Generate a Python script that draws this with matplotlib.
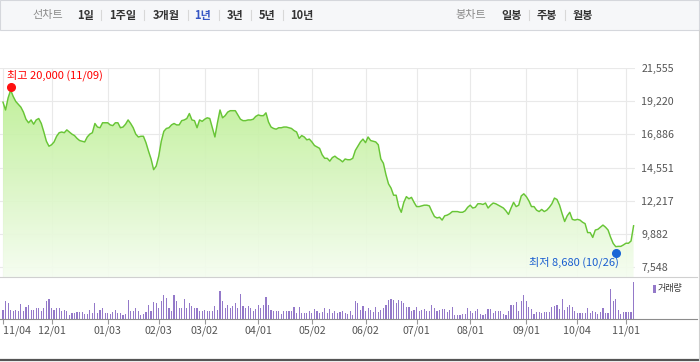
import numpy as np
import matplotlib
matplotlib.use('Agg')
import matplotlib.pyplot as plt
from matplotlib.patches import Rectangle
from matplotlib.lines import Line2D
from matplotlib.colors import LinearSegmentedColormap
import matplotlib.transforms as mtransforms

plt.rcParams['font.family'] = ['Noto Sans CJK KR', 'DejaVu Sans']

# ---------------- data ----------------
prices = [
    19150, 18600, 19450, 20000, 19550, 19200, 19000, 18800, 18450, 17950,
    17700, 17900, 17600, 17900, 18000, 17650, 17050, 16400, 16050, 16150,
    16350, 16750, 17000, 17050, 17000, 17200, 17050, 16900, 16800, 16600,
    16450, 16400, 16350, 16700, 16900, 17000, 17650, 17400, 17350, 17700,
    17700, 17700, 17550, 17500, 17700, 17700, 17350, 17400, 17600, 17900,
    17650, 17350, 16900, 16700, 16750, 16750, 16300, 15700, 15150, 14400,
    14650, 15350, 16400, 17100, 17300, 17350, 17550, 17650, 17550, 17550,
    17850, 17900, 18000, 18350, 17900, 17850, 17350, 17900, 17800, 17950,
    18050, 18000, 17350, 16700, 17700, 18600, 18050, 18200, 18450, 18550,
    18550, 18550, 18250, 17950, 17850, 17850, 17900, 17900, 17950, 18150,
    18250, 18200, 18200, 18400, 17750, 17400, 17300, 17250, 17350, 17350,
    17400, 17400, 17350, 17300, 17150, 17050, 16600, 16800, 16700, 16500,
    16550, 16350, 16100, 16000, 15900, 15450, 15200, 15200, 15000, 15250,
    15350, 15200, 15100, 14950, 15150, 15100, 15100, 15200, 15750, 16050,
    16350, 16550, 16300, 16700, 16450, 16400, 16350, 16150, 15150, 14850,
    14050, 13400, 13100, 12600, 12600, 11800, 11400, 12100, 12500, 12350,
    12450, 12100, 11800, 11800, 11850, 11900, 11900, 11850, 11450, 11100,
    11000, 11050, 10850, 11150, 11200, 11300, 11450, 11450, 11450, 11400,
    11400, 11500, 11750, 11900, 11700, 11750, 12000, 12000, 11950, 12050,
    11700, 11900, 12050, 12000, 11900, 11800, 11700, 11500, 11250, 11700,
    12100, 11800, 11900, 12550, 12700, 12500, 12200, 11800, 11800, 11550,
    11450, 11600, 11450, 11550, 11750, 12000, 12400, 12300, 11900, 11300,
    10750, 11150, 11400, 10900, 10850, 10900, 10850, 10700, 10600, 9970,
    9970, 9630, 10150, 10200, 10350, 10500, 10350, 10150, 9640, 9210,
    8980, 9000, 9000, 9100, 9220, 9220, 9380, 10450,
]

volumes = [
    93, 183, 160, 93, 77, 93, 77, 153, 83, 120,
    143, 93, 93, 110, 110, 77, 110, 183, 203, 110,
    93, 110, 110, 83, 93, 83, 43, 60, 60, 70,
    70, 70, 50, 50, 93, 60, 160, 60, 93, 110,
    60, 60, 50, 70, 93, 60, 60, 43, 50, 193,
    83, 83, 110, 80, 43, 50, 70, 137, 83, 170,
    160, 110, 183, 243, 210, 110, 83, 243, 177, 110,
    110, 200, 110, 160, 127, 110, 110, 77, 77, 93,
    77, 83, 80, 127, 93, 283, 177, 110, 137, 110,
    127, 160, 110, 253, 127, 110, 127, 110, 83, 100,
    143, 110, 143, 220, 137, 93, 77, 83, 83, 50,
    77, 83, 77, 77, 117, 60, 117, 60, 60, 60,
    77, 60, 100, 77, 60, 70, 110, 60, 100, 60,
    77, 60, 70, 83, 60, 50, 83, 43, 177, 160,
    93, 133, 77, 110, 93, 67, 120, 67, 87, 110,
    143, 187, 203, 193, 160, 193, 183, 160, 117, 117,
    77, 93, 117, 77, 93, 103, 83, 77, 143, 110,
    77, 93, 103, 103, 70, 93, 117, 43, 43, 43,
    50, 50, 110, 77, 60, 83, 103, 53, 43, 50,
    103, 103, 60, 77, 77, 83, 50, 43, 83, 137,
    137, 170, 83, 183, 243, 183, 120, 103, 50, 70,
    70, 60, 70, 70, 70, 120, 127, 143, 103, 203,
    87, 120, 137, 117, 83, 60, 60, 60, 60, 110,
    60, 83, 70, 50, 70, 110, 60, 60, 303, 177,
    203, 93, 50, 70, 70, 70, 70, 367,
]

tick_idx = [0, 19, 41, 61, 79, 100, 121, 142, 162, 183, 205, 225, 244]
tick_labels = ['11/04', '12/01', '01/03', '02/03', '03/02', '04/01', '05/02',
               '06/02', '07/01', '08/01', '09/01', '10/04', '11/01']
price_ticks = [7548, 9882, 12217, 14551, 16886, 19220, 21555]
max_idx, max_val, max_label = 3, 20000, '최고 20,000 (11/09)'
min_idx, min_val, min_label = 240, 8680, '최저 8,680 (10/26)'
period_tabs = ['1일', '1주일', '3개월', '1년', '3년', '5년', '10년']
candle_tabs = ['일봉', '주봉', '월봉']
volume_label = '거래량'

# ---------------- layout helpers ----------------
W, H = 700, 362
fig = plt.figure(figsize=(7, 3.62), dpi=100)
fig.patch.set_facecolor('white')


def rect(l, t, r, b):
    return [l / W, 1 - b / H, (r - l) / W, (b - t) / H]


def fx(x):
    return x / W


def fy(y):
    return 1 - y / H


PX_PER_DAY = 2.553
X0 = 3.0
YMIN, YMAX = 6844, 21555
x = np.arange(len(prices))

# ---------------- header ----------------
fig.add_artist(Rectangle((0, fy(30)), fx(699), 30 / H, transform=fig.transFigure,
                         facecolor='#f6f7f9', edgecolor='#d5d7dc', lw=0.8))
fig.text(fx(48), fy(15), '선차트', ha='center', va='center', fontsize=8, color='#8a8a8a')
tab_x = [86, 123, 166, 203, 235, 267, 302]
for lbl, xx in zip(period_tabs, tab_x):
    col = '#3656c4' if lbl == '1년' else '#333333'
    fig.text(fx(xx), fy(15), lbl, ha='center', va='center', fontsize=8,
             fontweight='bold', color=col)
for sx in [101, 144, 188, 219, 251, 283]:
    fig.add_artist(Line2D([fx(sx), fx(sx)], [fy(10), fy(20)], transform=fig.transFigure,
                          color='#d8d8d8', lw=0.8))
fig.text(fx(471), fy(15), '봉차트', ha='center', va='center', fontsize=8, color='#8a8a8a')
for lbl, xx in zip(candle_tabs, [512, 547, 583]):
    fig.text(fx(xx), fy(15), lbl, ha='center', va='center', fontsize=8,
             fontweight='bold', color='#333333')
for sx in [529, 565]:
    fig.add_artist(Line2D([fx(sx), fx(sx)], [fy(10), fy(20)], transform=fig.transFigure,
                          color='#d8d8d8', lw=0.8))

# ---------------- price chart ----------------
ax = fig.add_axes(rect(0, 68, 635, 277))
xlim = ((0 - X0) / PX_PER_DAY, (635 - X0) / PX_PER_DAY)
poly = ax.fill_between(x, prices, YMIN, facecolor='none', edgecolor='none')
cmap = LinearSegmentedColormap.from_list('g', ['#f5fdf0', '#b6ed89'])
grad = np.linspace(0, 1, 256).reshape(-1, 1)
im = ax.imshow(grad, aspect='auto', cmap=cmap, origin='lower',
               extent=[xlim[0], xlim[1], YMIN, YMAX], zorder=1, alpha=0.92)
im.set_clip_path(poly.get_paths()[0], transform=ax.transData)
ax.plot(x, prices, color='#68c536', lw=1.05, zorder=3)
ax.set_xlim(*xlim)
ax.set_ylim(YMIN, YMAX)
for v in price_ticks:
    ax.axhline(v, color='#e9e9e9', lw=0.8, zorder=0)
for t in tick_idx:
    ax.axvline(t, color='#e9e9e9', lw=0.8, zorder=0)
ax.set_xticks([])
ax.yaxis.tick_right()
ax.set_yticks(price_ticks)
ax.set_yticklabels([f'{v:,}' for v in price_ticks])
ax.tick_params(axis='y', length=0, pad=4.5, labelsize=7.7, labelcolor='#555555')
for s in ax.spines.values():
    s.set_visible(False)

# max / min markers
up = mtransforms.offset_copy(ax.transData, fig=fig, x=0, y=3, units='dots')
dn = mtransforms.offset_copy(ax.transData, fig=fig, x=0, y=-2, units='dots')
ax.plot([max_idx], [max_val], 'o', color='#ff1010', ms=5.5, transform=up, zorder=5,
        clip_on=False)
ax.plot([min_idx], [min_val], 'o', color='#1a66d6', ms=5.5, transform=dn, zorder=5,
        clip_on=False)
ax.annotate(max_label, xy=(max_idx, max_val), xytext=(-2.7, 10.8),
            textcoords='offset points', ha='left', va='center', fontsize=8,
            color='#ff0000')
ax.annotate(min_label, xy=(min_idx, min_val), xytext=(2.4, -8.5),
            textcoords='offset points', ha='right', va='center', fontsize=8,
            color='#1a5fd0')

# ---------------- volume chart ----------------
axv = fig.add_axes(rect(0, 277, 697, 319))
axv.bar(x, volumes, width=0.45, color='#9479c9', linewidth=0)
axv.set_xlim((0 - X0) / PX_PER_DAY, (697 - X0) / PX_PER_DAY)
axv.set_ylim(0, 420)
axv.set_yticks([])
axv.set_xticks(tick_idx)
axv.set_xticklabels(tick_labels)
axv.tick_params(axis='x', length=3.5, width=0.8, color='#999999', pad=1.5,
                labelsize=7.7, labelcolor='#555555')
first = axv.get_xticklabels()[0]
first.set_horizontalalignment('left')
axv.spines['left'].set_visible(False)
axv.spines['right'].set_visible(False)
axv.spines['top'].set_color('#d0d0d0')
axv.spines['top'].set_linewidth(0.8)
axv.spines['bottom'].set_color('#8c8c8c')
axv.spines['bottom'].set_linewidth(0.8)

# volume legend
fig.add_artist(Rectangle((fx(653), fy(293)), 2.5 / W, 8 / H, transform=fig.transFigure,
                         facecolor='#9479c9', edgecolor='none'))
fig.text(fx(657.5), fy(289), volume_label, ha='left', va='center', fontsize=6.5,
         color='#333333')

# ---------------- frame ----------------
fig.add_artist(Line2D([fx(0), fx(699)], [fy(360), fy(360)], transform=fig.transFigure,
                      color='#555555', lw=1.6))
fig.add_artist(Line2D([fx(698.5), fx(698.5)], [fy(30), fy(360)], transform=fig.transFigure,
                      color='#d0d0d0', lw=0.8))

fig.savefig('out.png', dpi=100)
